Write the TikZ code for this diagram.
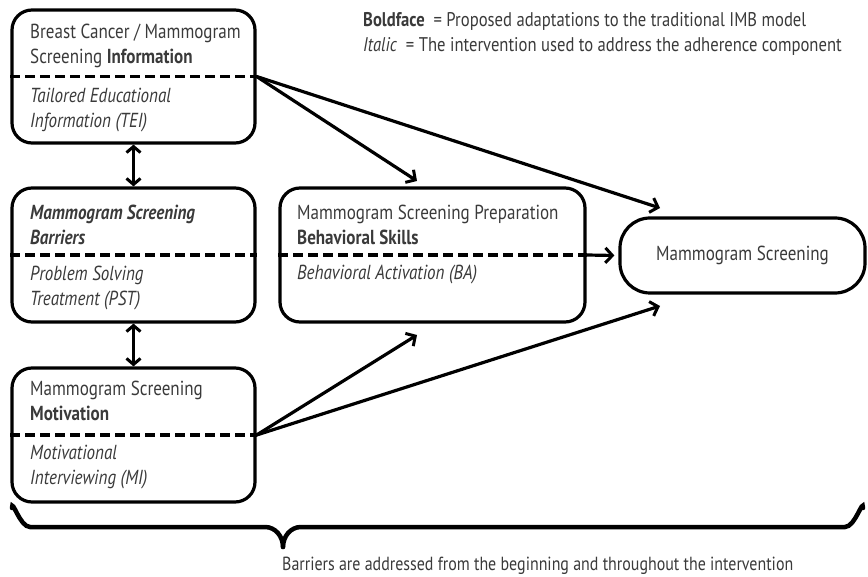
\documentclass[tikz,border=0pt]{standalone}
\usepackage{fontspec}
\setmainfont{PT Sans}[FakeStretch=0.84]
\usetikzlibrary{arrows.meta}
\definecolor{txt}{HTML}{3A3A3A}
\begin{document}
\begin{tikzpicture}[x=1pt,y=-1pt,
  box/.style={draw=black, line width=3.2pt, rounded corners=20pt, inner sep=0pt},
  sep/.style={line width=3.6pt, dash pattern=on 10pt off 5pt},
  btxt/.style={anchor=west, align=left, inner sep=0pt, text=txt, font=\fontsize{20.3}{25}\selectfont},
  conn/.style={line width=3.2pt, -{Straight Barb[length=7pt,width=15pt,line width=3pt]}},
  dconn/.style={line width=3.2pt, {Straight Barb[length=6pt,width=14pt,line width=3pt]}-{Straight Barb[length=6pt,width=14pt,line width=3pt]}},
  brc/.style={line width=4.5pt, line cap=round},
  ltxt/.style={anchor=west, align=left, inner sep=0pt, text=txt, font=\fontsize{19.8}{25}\selectfont}
]
\useasboundingbox (0,0) rectangle (868,577);
% boxes
\node[box, minimum width=243pt, minimum height=133pt] (info) at (133.5,76.5) {};
\node[box, minimum width=243pt, minimum height=134pt] (barr) at (133.5,255) {};
\node[box, minimum width=243pt, minimum height=134pt] (moti) at (133.5,435) {};
\node[box, minimum width=305pt, minimum height=134pt] (beha) at (432.5,255) {};
\node[box, rounded corners=30pt, minimum width=245pt, minimum height=75pt] (scr) at (742.5,255.5) {};
% dashed separators
\draw[sep] (info.west) -- (info.east);
\draw[sep] (barr.west) -- (barr.east);
\draw[sep] (moti.west) -- (moti.east);
\draw[sep] (beha.west) -- (beha.east);
% texts
\node[btxt] (t1) at (30,46) {Breast Cancer / Mammogram\\Screening \textbf{Information}};
\node[btxt] (i1) at (30,110) {\textit{Tailored Educational}\\\textit{Information (TEI)}};
\node[btxt] (t2) at (30,225) {\textbf{\textit{Mammogram Screening}}\\\textbf{\textit{Barriers}}};
\node[btxt] (i2) at (30,288) {\textit{Problem Solving}\\\textit{Treatment (PST)}};
\node[btxt] (t3) at (30,401) {Mammogram Screening\\\textbf{Motivation}};
\node[btxt] (i3) at (30,467) {\textit{Motivational}\\\textit{Interviewing (MI)}};
\node[btxt] (t4) at (297,225) {Mammogram Screening Preparation\\\textbf{Behavioral Skills}};
\node[btxt] (i4) at (297,275) {\textit{Behavioral Activation (BA)}};
\node[btxt, anchor=center] (t5) at (scr.center) {Mammogram Screening};
% legend
\node[ltxt] (leg) at (363,33.5) {\textbf{Boldface} \ = Proposed adaptations to the traditional IMB model\\\textit{Italic} \ = The intervention used to address the adherence component};
% connectors
\coordinate (a1) at (417,181);
\coordinate (a2) at (660,208);
\coordinate (a3) at (417,335);
\coordinate (a4) at (660,306);
\draw[conn] (info.east) -- (a1);
\draw[conn] (info.east) -- (a2);
\draw[conn] (moti.east) -- (a3);
\draw[conn] (moti.east) -- (a4);
\draw[conn] (beha.east) -- ([xshift=-4pt]scr.west);
\draw[dconn] (info.south) -- (barr.north);
\draw[dconn] (barr.south) -- (moti.north);
% brace
\coordinate (bl) at (12,508);
\coordinate (bt) at (283,547);
\coordinate (br) at (863,508);
\draw[brc] (bl) to[out=90,in=180] ++(18,19) -- ++(235,0) to[out=0,in=90] (bt);
\draw[brc] (bt) to[out=90,in=180] ++(18,-20) -- ++(544,0) to[out=0,in=90] (br);
\node[anchor=west, inner sep=0pt, text=txt, font=\fontsize{19}{20}\selectfont] (note) at (282,566) {Barriers are addressed from the beginning and throughout the intervention};
\end{tikzpicture}
\end{document}
